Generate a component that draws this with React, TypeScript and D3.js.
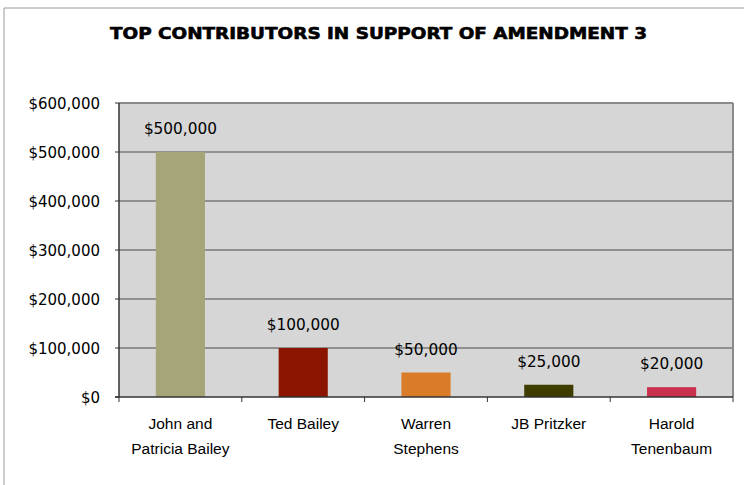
import React from "react";
import * as d3 from "d3";

const title = "TOP CONTRIBUTORS IN SUPPORT OF AMENDMENT 3";
const categories: string[][] = [
  ["John and", "Patricia Bailey"],
  ["Ted Bailey"],
  ["Warren", "Stephens"],
  ["JB Pritzker"],
  ["Harold", "Tenenbaum"],
];
const values = [500000, 100000, 50000, 25000, 20000];
const colors = ["#A6A578", "#8B1500", "#D97B27", "#3F3C00", "#C8304D"];
const yTicks = [0, 100000, 200000, 300000, 400000, 500000, 600000];

const W = 744;
const H = 485;
const left = 119;
const right = 733;
const top = 103;
const bottom = 397;

export default function App() {
  const x = d3
    .scaleBand<number>()
    .domain(d3.range(values.length))
    .range([left, right])
    .paddingInner(0.6)
    .paddingOuter(0.3);
  const xOuter = d3.scaleBand<number>().domain(d3.range(values.length)).range([left, right]);
  const y = d3.scaleLinear().domain([0, 600000]).range([bottom, top]);
  const fmt = (v: number) => "$" + d3.format(",")(v);

  return (
    <div style={{ position: "absolute", left: 0, top: 0, width: W, height: H, background: "#fff" }}>
      <svg width={W} height={H} style={{ display: "block" }}>
        <rect x={0} y={0} width={W} height={H} fill="#fff" />
        {/* outer frame */}
        <line x1={4} x2={W} y1={8} y2={8} stroke="#9a9a9a" strokeWidth={1} />
        <line x1={4} x2={4} y1={8} y2={H} stroke="#9a9a9a" strokeWidth={1} />
        <text
          x={378.5}
          y={39}
          textAnchor="middle"
          fontFamily="DejaVu Sans"
          fontWeight="bold"
          fontSize={15.5}
          textLength={537}
          lengthAdjust="spacingAndGlyphs"
          fill="#000"
          stroke="#000"
          strokeWidth={0.6}
        >
          {title}
        </text>
        {/* plot area */}
        <rect x={left} y={top} width={right - left} height={bottom - top} fill="#D6D6D6" />
        {yTicks.slice(1).map((t) => (
          <line key={t} x1={left} x2={right} y1={y(t)} y2={y(t)} stroke="#4a4a4a" strokeWidth={1} />
        ))}
        {values.map((v, i) => (
          <rect
            key={i}
            x={x(i)}
            y={y(v)}
            width={x.bandwidth()}
            height={bottom - y(v)}
            fill={colors[i]}
          />
        ))}
        {/* plot border top/right */}
        <line x1={left} x2={right} y1={top} y2={top} stroke="#8a8a8a" strokeWidth={2} />
        <line x1={right} x2={right} y1={top} y2={bottom} stroke="#8a8a8a" strokeWidth={2} />
        {/* axes */}
        <line x1={left} x2={left} y1={top} y2={bottom} stroke="#333" strokeWidth={1.5} />
        <line x1={left - 4} x2={right} y1={bottom} y2={bottom} stroke="#333" strokeWidth={1.5} />
        {yTicks.map((t) => (
          <g key={t}>
            <line x1={left - 4} x2={left} y1={y(t)} y2={y(t)} stroke="#333" strokeWidth={1} />
            <text
              x={100}
              y={y(t) + 5.5}
              textAnchor="end"
              fontFamily="DejaVu Sans"
              fontSize={15}
              fill="#000"
            >
              {fmt(t)}
            </text>
          </g>
        ))}
        {d3.range(values.length + 1).map((i) => {
          const xx = i < values.length ? xOuter(i)! : right;
          return <line key={i} x1={xx} x2={xx} y1={bottom} y2={bottom + 5} stroke="#333" strokeWidth={1} />;
        })}
        {values.map((v, i) => (
          <text
            key={i}
            x={x(i)! + x.bandwidth() / 2}
            y={y(v) - 18}
            textAnchor="middle"
            fontFamily="DejaVu Sans"
            fontSize={15.3}
            fill="#000"
          >
            {fmt(v)}
          </text>
        ))}
        {categories.map((lines, i) => (
          <text
            key={i}
            x={x(i)! + x.bandwidth() / 2}
            textAnchor="middle"
            fontFamily="Liberation Sans"
            fontSize={15.5}
            fill="#000"
          >
            {lines.map((l, j) => (
              <tspan key={j} x={x(i)! + x.bandwidth() / 2} y={429 + j * 25}>
                {l}
              </tspan>
            ))}
          </text>
        ))}
      </svg>
    </div>
  );
}
